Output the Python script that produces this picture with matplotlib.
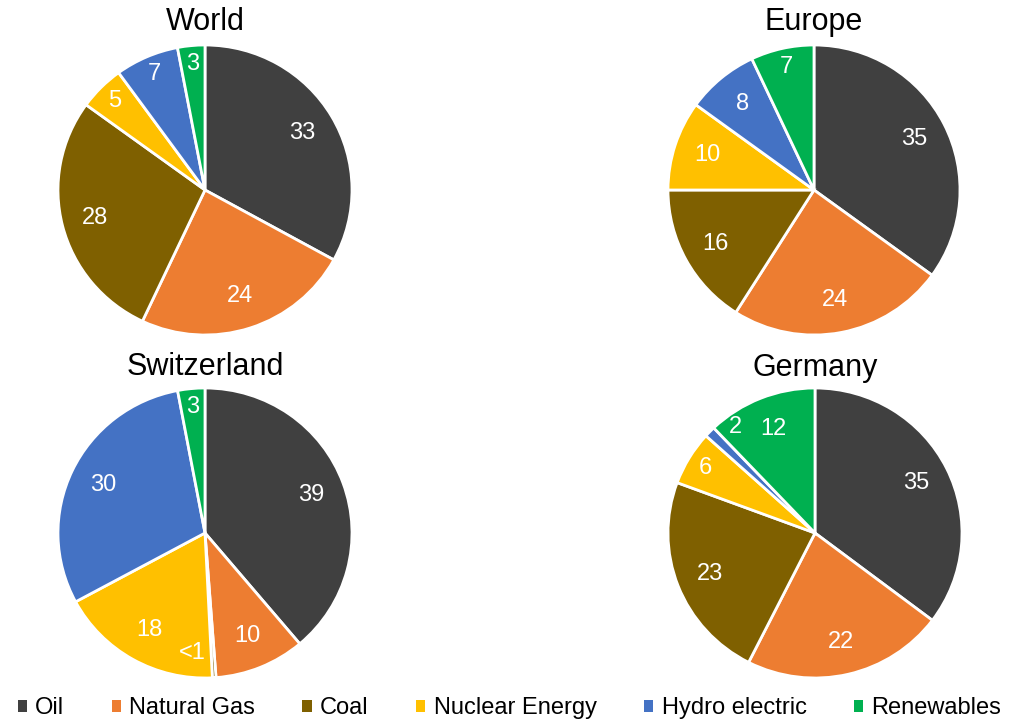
import numpy as np
import matplotlib.pyplot as plt
from matplotlib.patches import Patch

sources = ["Oil", "Natural Gas", "Coal", "Nuclear Energy", "Hydro electric", "Renewables"]
colors = ["#404040", "#ED7D31", "#7F6000", "#FFC000", "#4472C4", "#00B050"]

world = [33, 24, 28, 5, 7, 3]
europe = [35, 24, 16, 10, 8, 7]
switzerland = [39, 10, 0.4, 18, 30, 3]
germany = [35, 22, 23, 6, 1.2, 12]

world_labels = ["33", "24", "28", "5", "7", "3"]
europe_labels = ["35", "24", "16", "10", "8", "7"]
switzerland_labels = ["39", "10", "<1", "18", "30", "3"]
germany_labels = ["35", "22", "23", "6", "2", "12"]

plt.rcParams['font.family'] = ['Liberation Sans', 'DejaVu Sans']

W, H = 1019, 724
fig = plt.figure(figsize=(W / 100, H / 100), dpi=100)


def draw_pie(cx, cy, rx, ry, values, labels, title, ty):
    ax = fig.add_axes([(cx - rx) / W, 1 - (cy + ry) / H, 2 * rx / W, 2 * ry / H])
    wedges, texts = ax.pie(values, colors=colors, startangle=90, counterclock=False,
                           labels=labels, labeldistance=0.77,
                           wedgeprops=dict(edgecolor="white", linewidth=2),
                           textprops=dict(color="white", fontsize=17,
                                          ha="center", va="center"))
    # push labels of thin slices further out, like the original
    total = sum(values)
    for t, v in zip(texts, values):
        t.set_ha("center")
        if v / total < 0.08:
            x, y = t.get_position()
            t.set_position((x * 1.13, y * 1.13))
    ax.set_xlim(-1, 1)
    ax.set_ylim(-1, 1)
    ax.set_aspect("auto")
    fig.text(cx / W, 1 - ty / H, title, ha="center", va="center", fontsize=22)
    return texts


draw_pie(205, 190, 147, 145, world, world_labels, "World", 22)
draw_pie(814, 190, 146, 145, europe, europe_labels, "Europe", 22)
sw = draw_pie(205, 533, 147, 145, switzerland, switzerland_labels, "Switzerland", 367)
de = draw_pie(815, 533, 147, 145, germany, germany_labels, "Germany", 368)

# small label tweaks
sw[2].set_position((-0.085, -0.83))
de[4].set_position((-0.54, 0.73))

handles = [Patch(facecolor=c, edgecolor="none") for c in colors]
fig.legend(handles, sources, loc="center", bbox_to_anchor=(0.5, 1 - 708 / H), ncol=6,
           frameon=False, fontsize=17, handlelength=0.4, handleheight=0.4,
           handletextpad=0.35, columnspacing=2.0)

fig.savefig("out.png", dpi=100)
